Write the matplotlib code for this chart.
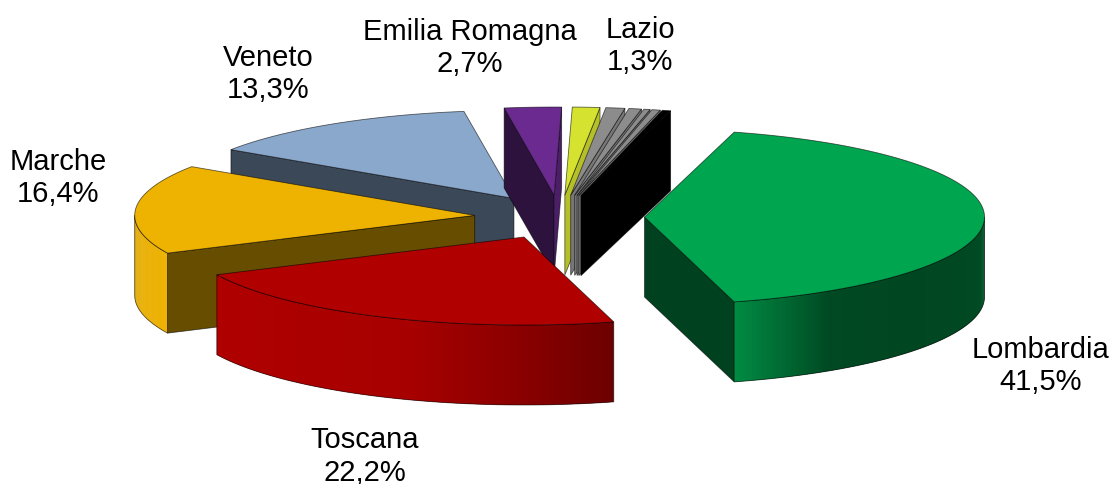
import numpy as np
import matplotlib
matplotlib.use("Agg")
import matplotlib.pyplot as plt
from matplotlib.collections import PolyCollection
from matplotlib.colors import to_rgb

plt.rcParams['font.family'] = ['Liberation Sans', 'DejaVu Sans']

categories = ["Lombardia", "Toscana", "Marche", "Veneto", "Emilia Romagna", "Lazio",
              "Altro 1", "Altro 2", "Altro 3", "Altro 4", "Altro 5"]
values = [41.5, 22.2, 16.4, 13.3, 2.7, 1.3, 0.9, 0.6, 0.3, 0.4, 0.4]
colors = ["#00a64f", "#b00000", "#eeb200", "#8aa8cc", "#6a2a90", "#d5e230",
          "#8c8c8c", "#8c8c8c", "#8c8c8c", "#8c8c8c", "#000000"]
labelled = {"Lombardia": (1041, 347), "Toscana": (365, 438), "Marche": (58, 159),
            "Veneto": (268, 55), "Emilia Romagna": (470, 29), "Lazio": (640, 27)}
draw_order = ["Veneto", "Marche", "Emilia Romagna", "Lazio", "Altro 1", "Altro 2",
              "Altro 3", "Altro 4", "Altro 5", "Lombardia", "Toscana"]
# side shading: (angle, brightness) stops per slice
side_stops = {"Lombardia": ([90, 105, 130, 147, 158, 165], [.50, .44, .42, .44, .68, .85]),
              "Toscana": ([165, 180, 200, 245], [.62, .78, .95, 1.0]),
              "Marche": ([245, 258, 270], [1.0, .98, .92])}

CX, CY, RX, RY, DEPTH, EXPLODE, START = 559.5, 217, 340, 88, 80, 0.25, 15.3

fig = plt.figure(figsize=(11.13, 4.84), dpi=100)
ax = fig.add_axes([0, 0, 1, 1])
ax.set_xlim(0, 1113)
ax.set_ylim(484, 0)
ax.axis("off")


def shade(c, f):
    return tuple(np.clip(np.array(to_rgb(c)) * f, 0, 1))


def pt(t, ax0, ay0):
    r = np.radians(t)
    return ax0 + RX * np.sin(r), ay0 - RY * np.cos(r)


angles = START + np.concatenate([[0], np.cumsum(values)]) * 3.6
slices = {}
for i, name in enumerate(categories):
    t1, t2 = angles[i], angles[i + 1]
    mid = np.radians((t1 + t2) / 2)
    ax0 = CX + EXPLODE * RX * np.sin(mid)
    ay0 = CY - EXPLODE * RY * np.cos(mid)
    slices[name] = (t1, t2, ax0, ay0, colors[i])

for z, name in enumerate(draw_order):
    t1, t2, ax0, ay0, col = slices[name]
    base = z * 10
    edge = (0, 0, 0, .6)

    def quad(t):
        x, y = pt(t, ax0, ay0)
        return [(ax0, ay0), (x, y), (x, y + DEPTH), (ax0, ay0 + DEPTH)]

    # cut faces
    if 180 < t1 % 360 < 360:
        ax.add_patch(plt.Polygon(quad(t1), closed=True, fc=shade(col, .43), ec=edge, lw=.6, zorder=base))
    if 0 < t2 % 360 < 180:
        f = .85 if t2 % 360 < 30 else .40
        if name == "Emilia Romagna":
            f = .72
        ax.add_patch(plt.Polygon(quad(t2), closed=True, fc=shade(col, f), ec=edge, lw=.6, zorder=base + 1))

    # rounded outer side
    lo, hi = max(t1, 90), min(t2, 270)
    if hi > lo:
        ts = np.linspace(lo, hi, 121)
        xs, ys = pt(ts, ax0, ay0)
        stops = side_stops.get(name, ([lo, hi], [.6, .6]))
        fac = np.interp((ts[:-1] + ts[1:]) / 2, stops[0], stops[1])
        # each strip overlaps the next one, so no seams show between them
        polys = []
        for j in range(len(ts) - 1):
            k = min(j + 2, len(ts) - 1)
            polys.append([(xs[j], ys[j]), (xs[k], ys[k]), (xs[k], ys[k] + DEPTH), (xs[j], ys[j] + DEPTH)])
        cols = [shade(col, f) for f in fac]
        ax.add_collection(PolyCollection(polys, facecolors=cols, edgecolors="none", zorder=base + 2))
        outline = list(zip(xs, ys)) + list(zip(xs[::-1], ys[::-1] + DEPTH))
        ax.add_patch(plt.Polygon(outline, closed=True, fc="none", ec=edge, lw=.6, zorder=base + 3))

    # top face
    ts = np.linspace(t1, t2, 160)
    xs, ys = pt(ts, ax0, ay0)
    top = [(ax0, ay0)] + list(zip(xs, ys))
    ax.add_patch(plt.Polygon(top, closed=True, fc=col, ec=edge, lw=.6, zorder=base + 4))

for i, name in enumerate(categories):
    if name in labelled:
        x, y = labelled[name]
        pct = f"{values[i]:.1f}".replace(".", ",") + "%"
        ax.text(x, y - 11.5, f"{name}\n{pct}", ha="center", va="top",
                fontsize=21, color="black", linespacing=1.19, zorder=500, clip_on=False)

fig.savefig("out.png", dpi=100)
